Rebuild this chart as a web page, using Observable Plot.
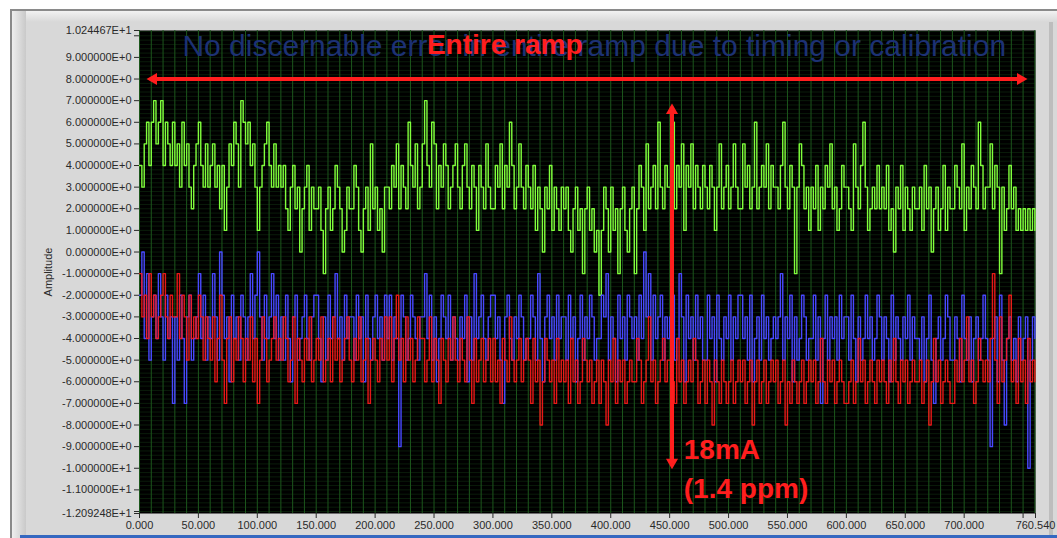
<!DOCTYPE html>
<html><head><meta charset="utf-8">
<script src="https://cdn.jsdelivr.net/npm/d3@7"></script>
<script src="https://cdn.jsdelivr.net/npm/@observablehq/plot@0.6"></script>
<style>
html,body{margin:0;padding:0;background:#fff;}
body{width:1057px;height:538px;overflow:hidden;position:relative;font-family:"Liberation Sans",Arial,sans-serif;}
#frame{position:absolute;left:10px;top:9px;width:1047px;height:529px;background:#d8d8d8;border-top:2px solid #8a8a8a;border-left:2px solid #8a8a8a;box-sizing:border-box;}
#topband{position:absolute;left:0;top:0;width:100%;height:11px;background:linear-gradient(#f2f2f2,#d8d8d8);}
#leftband{position:absolute;left:0;top:0;width:14px;height:100%;background:linear-gradient(90deg,#eeeeee,#c9c9c9);}
#rightband{position:absolute;right:4px;top:11px;width:4px;height:100%;background:#bdbdbd;}
#bottombar{position:absolute;left:8px;bottom:0;width:100%;height:3px;background:#3568c0;}
#chart{position:absolute;left:0;top:0;}
</style>
</head><body>
<div id="frame"><div id="topband"></div><div id="leftband"></div><div id="rightband"></div><div id="bottombar"></div></div>
<div id="chart"></div>
<script>
// sample spacing along the x axis (units)
const sampleStep = 2;

// green trace (amplitude)
const green = [
4,3,5,6,4,6,7,5,6,7,4,6,5,4,6,
4,5,3,6,4,5,3,2,4,5,6,4,3,5,3,
4,5,3,4,2,4,1,3,5,4,6,5,3,7,6,
5,6,4,5,3,1,3,4,5,6,4,3,5,3,4,
3,4,2,1,3,4,2,3,0,2,3,4,1,3,2,
2,3,1,-1,2,3,1,2,4,3,2,0,1,3,2,
2,4,3,1,0,2,3,1,5,2,3,1,2,0,3,
3,2,4,3,5,2,4,3,2,6,4,3,5,2,3,
5,7,4,3,6,5,2,4,3,5,4,2,3,4,5,
3,2,4,5,3,2,4,3,1,4,3,2,5,3,2,
2,4,3,5,2,4,3,6,4,2,3,5,3,2,4,
3,2,4,1,3,2,0,3,2,4,1,3,2,1,3,
2,3,1,0,2,3,1,2,-1,2,3,1,2,0,1,
-2,1,3,2,0,3,1,2,-1,2,3,1,0,2,3,
-1,2,4,3,1,5,2,3,4,2,6,3,2,4,3,
3,6,2,4,3,5,1,4,3,5,2,4,3,2,4,
3,2,4,3,1,3,5,2,3,4,2,3,5,3,2,
2,5,3,4,2,3,6,2,3,4,3,5,2,4,3,
3,2,4,6,3,2,4,3,-1,3,5,4,2,3,1,
3,2,4,1,3,2,4,3,5,2,3,1,2,4,3,
3,2,1,5,3,2,4,6,3,1,2,3,2,4,2,
3,2,4,1,2,0,3,2,4,1,3,2,1,3,2,
2,3,1,4,2,3,0,2,3,1,2,4,1,3,2,
2,4,3,2,5,1,3,2,4,3,2,6,4,2,3,
3,5,2,4,3,-1,3,1,2,4,2,3,1,2,1,
2,1,2,1,2,1];

// blue trace
const blue = [
-2,0,-4,-1,-5,-3,-2,-4,-1,-3,-5,-2,-4,-3,-7,
-3,-5,-2,-4,-7,-3,-2,-5,-4,-3,-1,-4,-2,-5,-3,
-4,-1,-3,-5,0,-2,-4,-3,-6,-2,-4,-3,-5,-2,-3,
-5,-3,-1,-4,-2,0,-3,-5,-2,-4,-3,-1,-4,-2,-5,
-3,-5,-2,-4,-6,-3,-2,-5,-4,-3,-2,-4,-5,-3,-2,
-2,-4,-6,-3,-5,-2,-4,-3,-1,-4,-3,-5,-2,-4,-3,
-3,-5,-2,-4,-3,-6,-2,-4,-5,-3,-2,-4,-3,-5,-2,
-4,-2,-5,-3,-4,-9,-2,-3,-5,-4,-2,-3,-4,-5,-3,
-3,-1,-4,-2,-5,-3,-6,-4,-2,-3,-4,-2,-5,-3,-4,
-5,-3,-4,-2,-6,-3,-5,-1,-4,-3,-2,-4,-5,-3,-2,
-2,-4,-3,-5,-7,-3,-2,-4,-5,-3,-4,-2,-3,-5,-4,
-4,-2,-3,-5,-1,-4,-6,-3,-2,-4,-3,-5,-2,-4,-3,
-3,-5,-2,-4,-3,-6,-4,-2,-5,-3,-4,-2,-3,-5,-4,
-4,-2,-3,-1,-5,-3,-4,-6,-2,-4,-3,-5,-2,-3,-4,
-3,-5,-2,-4,0,-3,-1,-5,-2,-4,-3,-2,-5,-3,-4,
-3,-2,-5,-4,-1,-3,-6,-2,-4,-3,-5,-2,-4,-3,-5,
-5,-2,-4,-3,-6,-2,-4,-5,-3,-4,-2,-5,-3,-4,-2,
-2,-4,-3,-5,-2,-6,-4,-3,-5,-2,-4,-3,-5,-4,-3,
-4,-3,-1,-5,-3,-4,-2,-6,-3,-5,-4,-2,-3,-5,-4,
-4,-2,-5,-3,-7,-4,-2,-5,-3,-4,-3,-5,-2,-4,-3,
-3,-5,-2,-4,-6,-3,-5,-4,-2,-4,-3,-5,-4,-2,-3,
-5,-3,-4,-6,-2,-5,-3,-4,-5,-3,-4,-2,-5,-3,-4,
-4,-5,-3,-6,-4,-2,-5,-7,-4,-3,-5,-4,-2,-3,-5,
-5,-3,-4,-6,-2,-4,-5,-3,-6,-4,-3,-5,-4,-2,-4,
-5,-9,-4,-3,-6,-2,-5,-8,-4,-3,-5,-4,-6,-3,-5,
-4,-3,-10,-5,-3,-4];

// red trace
const red = [
-1,-3,-2,-4,-1,-3,-2,-4,-3,-2,-1,-3,-4,-2,-3,
-3,-1,-4,-2,-3,-5,-2,-4,-3,-4,-2,-3,-5,-3,-4,
-5,-3,-6,-4,-2,-5,-7,-4,-3,-6,-4,-5,-3,-4,-6,
-4,-5,-3,-6,-4,-7,-5,-3,-4,-6,-5,-4,-3,-5,-4,
-5,-3,-4,-6,-5,-3,-7,-4,-5,-6,-4,-5,-3,-6,-5,
-4,-5,-3,-6,-5,-4,-6,-3,-5,-4,-6,-5,-4,-3,-5,
-6,-4,-5,-3,-6,-5,-4,-7,-5,-4,-5,-6,-4,-5,-3,
-5,-3,-6,-4,-2,-5,-4,-6,-3,-5,-4,-6,-5,-3,-4,
-4,-6,-5,-3,-6,-4,-5,-7,-4,-5,-6,-4,-5,-3,-5,
-6,-4,-5,-6,-3,-5,-7,-4,-6,-5,-4,-6,-5,-4,-6,
-4,-6,-5,-7,-4,-5,-6,-3,-5,-6,-5,-4,-6,-5,-4,
-5,-7,-4,-6,-5,-8,-6,-4,-5,-6,-5,-7,-4,-6,-5,
-6,-5,-7,-4,-6,-5,-7,-6,-4,-5,-6,-5,-7,-6,-5,
-7,-5,-6,-8,-5,-6,-4,-7,-5,-6,-5,-7,-6,-5,-6,
-6,-4,-5,-7,-6,-5,-3,-6,-5,-7,-6,-5,-4,-6,-5,
-5,-6,-7,-4,-6,-5,-7,-6,-5,-6,-4,-5,-7,-6,-5,
-7,-5,-6,-8,-5,-6,-7,-5,-6,-7,-6,-5,-7,-6,-5,
-6,-5,-7,-6,-5,-8,-6,-5,-7,-6,-5,-7,-6,-5,-6,
-5,-7,-6,-5,-8,-6,-7,-5,-6,-7,-6,-5,-7,-6,-5,
-6,-5,-7,-6,-4,-6,-7,-5,-6,-5,-7,-6,-5,-6,-7,
-7,-6,-5,-7,-6,-4,-6,-5,-7,-6,-5,-6,-7,-5,-6,
-5,-6,-7,-5,-6,-4,-6,-7,-5,-6,-5,-7,-6,-5,-6,
-6,-5,-7,-6,-5,-8,-6,-4,-6,-5,-7,-6,-5,-6,-7,
-7,-5,-6,-4,-6,-5,-3,-6,-5,-7,-6,-4,-5,-6,-5,
-6,-4,-1,-5,-7,-3,-6,-5,-4,-2,-6,-5,-7,-4,-6,
-5,-7,-4,-6,-5,-6];

// axis extents and ticks
const xDomain = [0, 760.54];
const yDomain = [-12.09248, 10.24467];
const xTicksLabeled = [0,50,100,150,200,250,300,350,400,450,500,550,600,650,700,760.54];
const xTicksBare = [750];
const yTicksLabeled = [10.24467,9,8,7,6,5,4,3,2,1,0,-1,-2,-3,-4,-5,-6,-7,-8,-9,-10,-11,-12.09248];
const yTicksBare = [10,-12];
const xGrid = d3.range(0, 761, 10);
const yGrid = d3.range(-12, 10.21, 0.2);

// annotations
const noteBlue = [{x: 386, y: 9.52, text: "No discernable error in entire ramp due to timing or calibration"}];
const noteRed = [{x: 310, y: 9.58, text: "Entire ramp"}];
const spanArrowY = 8;
const spanArrowX = [1.7, 758];
const riseArrowX = 452;
const riseArrowY = [-10.28, 7.1];
const currentNotes = [{x: 462, y: -9.17, text: "18mA"}, {x: 462, y: -10.97, text: "(1.4 ppm)"}];

const toRows = (vals, s) => vals.map((v, i) => ({x: i * sampleStep, y: v, s}));
const dataBlue = toRows(blue, "blue");
const dataRed = toRows(red, "red");
const dataGreen = toRows(green, "green");

const RED = "#ff1e1e";
const fmtY = d => d.toExponential(6).toUpperCase();

const chart = Plot.plot({
  width: 1057, height: 538,
  marginLeft: 139, marginRight: 22, marginTop: 30, marginBottom: 25,
  style: {background: "transparent", fontFamily: "'Liberation Sans', Arial, sans-serif"},
  x: {domain: xDomain},
  y: {domain: yDomain},
  marks: [
    Plot.frame({fill: "#000", stroke: null}),
    Plot.gridY({ticks: yGrid, stroke: "#0a1c0a", strokeOpacity: 1}),
    Plot.gridX({ticks: xGrid, stroke: "#1c561c", strokeOpacity: 1}),
    Plot.line(dataGreen, {x: "x", y: "y", curve: "step-after", stroke: "#80ff3c", strokeWidth: 1.4}),
    Plot.line(dataBlue, {x: "x", y: "y", curve: "step-after", stroke: "#4848ff", strokeWidth: 1.4}),
    Plot.line(dataRed, {x: "x", y: "y", curve: "step-after", stroke: "#ff1a1a", strokeWidth: 1.4, strokeOpacity: 0.9}),
    Plot.text(noteBlue, {x: "x", y: "y", text: "text", fill: "#1d3174", fontSize: 30, textAnchor: "middle", lineAnchor: "middle"}),
    Plot.text(noteRed, {x: "x", y: "y", text: "text", fill: RED, fontSize: 28, fontWeight: "bold", textAnchor: "middle", lineAnchor: "middle"}),
    Plot.ruleY([spanArrowY], {x1: spanArrowX[0] + 8, x2: spanArrowX[1] - 8, stroke: RED, strokeWidth: 4}),
    Plot.dot([{x: spanArrowX[1], y: spanArrowY}], {x: "x", y: "y", symbol: "triangle", r: 4.5, fill: RED, stroke: null, rotate: 90, dx: -12}),
    Plot.dot([{x: spanArrowX[0], y: spanArrowY}], {x: "x", y: "y", symbol: "triangle", r: 4.5, fill: RED, stroke: null, rotate: -90, dx: 12}),
    Plot.ruleX([riseArrowX], {y1: riseArrowY[0] + 0.4, y2: riseArrowY[1] - 0.4, stroke: RED, strokeWidth: 4}),
    Plot.dot([{x: riseArrowX, y: riseArrowY[1]}], {x: "x", y: "y", symbol: "triangle", r: 4.5, fill: RED, stroke: null, rotate: 0, dy: 12}),
    Plot.dot([{x: riseArrowX, y: riseArrowY[0]}], {x: "x", y: "y", symbol: "triangle", r: 4.5, fill: RED, stroke: null, rotate: 180, dy: -12}),
    Plot.text(currentNotes, {x: "x", y: "y", text: "text", fill: RED, fontSize: 28, fontWeight: "bold", textAnchor: "start", lineAnchor: "middle"}),
    Plot.axisY({ticks: yTicksLabeled, tickFormat: fmtY, tickSize: 5, tickPadding: 3, fontSize: 11, color: "#2a2a2a",
      label: "Amplitude", labelAnchor: "center", labelArrow: "none", labelOffset: 95}),
    Plot.axisY({ticks: yTicksBare, tickFormat: () => "", tickSize: 5, color: "#2a2a2a", label: null}),
    Plot.axisX({ticks: xTicksLabeled, tickFormat: d => d.toFixed(3), tickSize: 5, tickPadding: 3, fontSize: 11, color: "#2a2a2a", label: null}),
    Plot.axisX({ticks: xTicksBare, tickFormat: () => "", tickSize: 5, color: "#2a2a2a", label: null})
  ]
});
document.getElementById("chart").appendChild(chart);
</script>
</body></html>
